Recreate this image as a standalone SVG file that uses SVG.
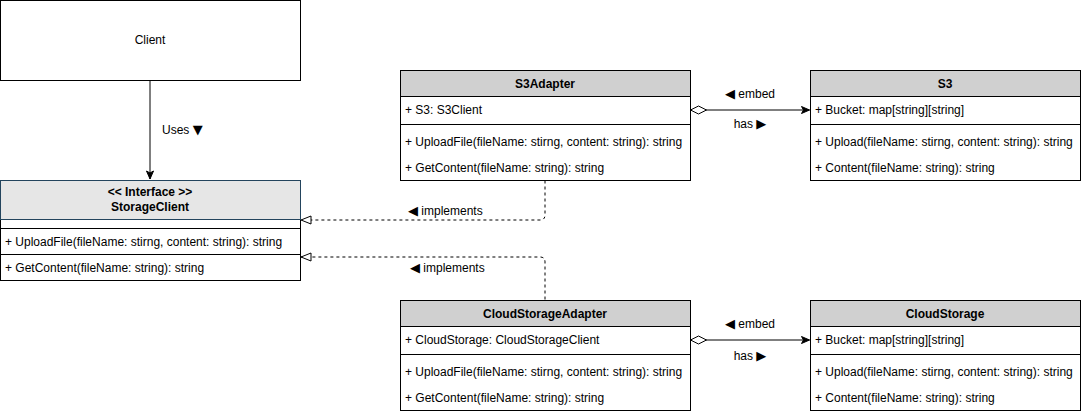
<svg xmlns="http://www.w3.org/2000/svg" width="1081" height="414" viewBox="0 0 1081 414">
<style>
text{font-family:"Liberation Sans",Arial,sans-serif;font-size:12px;fill:#000}
.b{font-weight:bold}
.c{text-anchor:middle}
.g{font-family:"DejaVu Sans",sans-serif;font-size:13px}
.box{fill:#fff;stroke:#000;stroke-width:1}
.hd{fill:#d0d0d0;stroke:#000;stroke-width:1}
.ln{stroke:#000;stroke-width:1;fill:none}
.dash{stroke:#000;stroke-width:1;fill:none;stroke-dasharray:3 3}
</style>
<defs>
<marker id="fill" markerWidth="10" markerHeight="10" refX="9" refY="5" orient="auto" markerUnits="userSpaceOnUse">
<path d="M1,1.5 L9,5 L1,8.5 L3,5 Z" fill="#000" stroke="#000"/>
</marker>
<marker id="tri" markerWidth="12" markerHeight="12" refX="11" refY="6" orient="auto" markerUnits="userSpaceOnUse">
<path d="M1,2 L11,6 L1,10 Z" fill="#fff" stroke="#000"/>
</marker>
<marker id="dia" markerWidth="20" markerHeight="14" refX="1" refY="7" orient="auto" markerUnits="userSpaceOnUse">
<path d="M1,7 L9,3 L17,7 L9,11 Z" fill="#fff" stroke="#000"/>
</marker>
</defs>

<g id="connectors">
<path class="ln" d="M150,80.5 L150,179" marker-end="url(#fill)"/>
<text x="162" y="134">Uses <tspan class="g">▼</tspan></text>
<path class="ln" d="M690.5,110 L809.5,110" marker-start="url(#dia)" marker-end="url(#fill)"/>
<text class="c" x="750" y="98"><tspan class="g">◀</tspan> embed</text>
<text class="c" x="750" y="128">has <tspan class="g">▶</tspan></text>
<path class="ln" d="M690.5,340 L809.5,340" marker-start="url(#dia)" marker-end="url(#fill)"/>
<text class="c" x="750" y="328"><tspan class="g">◀</tspan> embed</text>
<text class="c" x="750" y="360">has <tspan class="g">▶</tspan></text>
<path class="dash" d="M545,180.5 L545,215 Q545,220 540,220 L301,220" marker-end="url(#tri)"/>
<text x="408" y="215"><tspan class="g">◀</tspan> implements</text>
<path class="dash" d="M545,299.5 L545,262 Q545,257 540,257 L301,257" marker-end="url(#tri)"/>
<text x="410" y="272"><tspan class="g">◀</tspan> implements</text>
</g>

<g id="client">
<rect class="box" x="0.5" y="0.5" width="300" height="80"/>
<text class="c" x="150" y="44">Client</text>
</g>

<g id="storageclient">
<rect class="box" x="0.5" y="180.5" width="300" height="100"/>
<rect x="0.5" y="180.5" width="300" height="39" fill="#e6e6e6" stroke="#23445d"/>
<line class="ln" x1="0.5" y1="228.5" x2="300.5" y2="228.5"/>
<line class="ln" x1="0.5" y1="254.5" x2="300.5" y2="254.5"/>
<text class="b c" x="150" y="196">&lt;&lt; Interface &gt;&gt;</text>
<text class="b c" x="150" y="211">StorageClient</text>
<text x="5" y="246">+ UploadFile(fileName: stirng, content: string): string</text>
<text x="5" y="272">+ GetContent(fileName: string): string</text>
</g>

<g id="s3adapter">
<rect class="box" x="400.5" y="70.5" width="290" height="110"/>
<rect class="hd" x="400.5" y="70.5" width="290" height="26"/>
<line class="ln" x1="400.5" y1="124.5" x2="690.5" y2="124.5"/>
<text class="b c" x="545" y="88">S3Adapter</text>
<text x="405" y="114">+ S3: S3Client</text>
<text x="405" y="146">+ UploadFile(fileName: stirng, content: string): string</text>
<text x="405" y="172">+ GetContent(fileName: string): string</text>
</g>

<g id="s3">
<rect class="box" x="810.5" y="70.5" width="270" height="110"/>
<rect class="hd" x="810.5" y="70.5" width="270" height="26"/>
<line class="ln" x1="810.5" y1="124.5" x2="1080.5" y2="124.5"/>
<text class="b c" x="945" y="88">S3</text>
<text x="815" y="114">+ Bucket: map[string][string]</text>
<text x="815" y="146">+ Upload(fileName: stirng, content: string): string</text>
<text x="815" y="172">+ Content(fileName: string): string</text>
</g>

<g id="cloudstorageadapter">
<rect class="box" x="400.5" y="300.5" width="290" height="110"/>
<rect class="hd" x="400.5" y="300.5" width="290" height="26"/>
<line class="ln" x1="400.5" y1="354.5" x2="690.5" y2="354.5"/>
<text class="b c" x="545" y="318">CloudStorageAdapter</text>
<text x="405" y="344">+ CloudStorage: CloudStorageClient</text>
<text x="405" y="376">+ UploadFile(fileName: stirng, content: string): string</text>
<text x="405" y="402">+ GetContent(fileName: string): string</text>
</g>

<g id="cloudstorage">
<rect class="box" x="810.5" y="300.5" width="270" height="110"/>
<rect class="hd" x="810.5" y="300.5" width="270" height="26"/>
<line class="ln" x1="810.5" y1="354.5" x2="1080.5" y2="354.5"/>
<text class="b c" x="945" y="318">CloudStorage</text>
<text x="815" y="344">+ Bucket: map[string][string]</text>
<text x="815" y="376">+ Upload(fileName: stirng, content: string): string</text>
<text x="815" y="402">+ Content(fileName: string): string</text>
</g>
</svg>
